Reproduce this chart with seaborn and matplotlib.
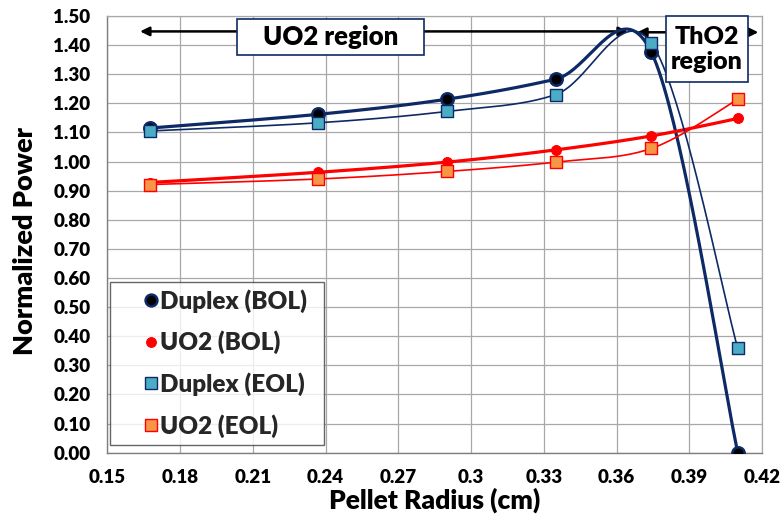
import numpy as np
import pandas as pd
import matplotlib
matplotlib.use("Agg")
import matplotlib.pyplot as plt
from matplotlib.patches import Rectangle
from matplotlib.lines import Line2D
from matplotlib.ticker import MultipleLocator
import seaborn as sns

# Normalized radial power per ring
radius = [0.1675, 0.2368, 0.2900, 0.3349, 0.3744, 0.4100]
duplex_bol = [1.115, 1.162, 1.214, 1.283, 1.375, 0.000]
uo2_bol = [0.928, 0.963, 0.998, 1.040, 1.088, 1.148]
duplex_eol = [1.105, 1.133, 1.172, 1.230, 1.407, 0.358]
uo2_eol = [0.921, 0.940, 0.966, 0.998, 1.045, 1.214]

series_names = ["Duplex (BOL)", "UO2 (BOL)", "Duplex (EOL)", "UO2 (EOL)"]
x_ticks = [0.15, 0.18, 0.21, 0.24, 0.27, 0.30, 0.33, 0.36, 0.39, 0.42]
x_tick_labels = ["0.15", "0.18", "0.21", "0.24", "0.27", "0.3", "0.33", "0.36", "0.39", "0.42"]
y_ticks = [i / 10 for i in range(16)]
y_tick_labels = [f"{v:.2f}" for v in y_ticks]

NAVY = "#0d2a66"
RED = "#ff0000"
TEAL = "#4bacc6"
ORANGE = "#f79646"
GRID = "#a8a8a8"
AXIS = "#7f7f7f"

sns.set_theme(style="white")
plt.rcParams["font.family"] = ["Lato", "DejaVu Sans"]
plt.rcParams["font.weight"] = "heavy"


def smooth_path(xs, ys, n=40):
    """Cubic Bezier through the points (Catmull-Rom style smoothing)."""
    p = np.column_stack([xs, ys]).astype(float)
    ext = np.vstack([p[0], p, p[-1]])
    t = np.linspace(0, 1, n)[:, None]
    out = []
    for i in range(len(p) - 1):
        a, d = ext[i + 1], ext[i + 2]
        b = a + (ext[i + 2] - ext[i]) / 6.0
        c = d - (ext[i + 3] - ext[i + 1]) / 6.0
        seg = (1 - t) ** 3 * a + 3 * (1 - t) ** 2 * t * b + 3 * (1 - t) * t ** 2 * c + t ** 3 * d
        out.append(seg if i == 0 else seg[1:])
    return pd.DataFrame(np.vstack(out), columns=["x", "y"])


fig = plt.figure(figsize=(7.83, 5.14), dpi=100)
ax = fig.add_axes([0.137, 0.1193, 0.8362, 0.8496])

styles = [
    # values, line colour, line width, marker, fill, edge, marker area, edge width
    (duplex_bol, NAVY, 2.3, "o", "black", NAVY, 80, 1.8),
    (uo2_bol, RED, 2.3, "o", RED, RED, 50, 0.8),
    (duplex_eol, NAVY, 1.2, "s", TEAL, NAVY, 64, 1.0),
    (uo2_eol, RED, 1.2, "s", ORANGE, RED, 64, 1.0),
]

for vals, lc, lw, mk, fc, ec, area, ew in styles:
    curve = smooth_path(radius, vals)
    sns.lineplot(data=curve, x="x", y="y", sort=False, estimator=None,
                 color=lc, linewidth=lw, ax=ax, zorder=3)

for vals, lc, lw, mk, fc, ec, area, ew in styles:
    sns.scatterplot(x=radius, y=vals, marker=mk, s=area, color=fc,
                    edgecolor=ec, linewidth=ew, ax=ax, zorder=4, legend=False)

ax.set_xlim(0.15, 0.42)
ax.set_ylim(0.0, 1.5)
ax.set_xticks(x_ticks, x_tick_labels)
ax.set_yticks(y_ticks, y_tick_labels)
ax.xaxis.set_minor_locator(MultipleLocator(0.006))
ax.yaxis.set_minor_locator(MultipleLocator(0.02))

ax.grid(which="major", color=GRID, linewidth=0.9)
ax.set_axisbelow(True)
for side in ["top", "right"]:
    ax.spines[side].set_color(GRID)
    ax.spines[side].set_linewidth(0.9)
for side in ["left", "bottom"]:
    ax.spines[side].set_color(AXIS)
    ax.spines[side].set_linewidth(1.0)

ax.tick_params(which="major", direction="inout", length=8, width=0.8, color=AXIS,
               labelsize=13.5, labelcolor="black")
ax.tick_params(which="minor", direction="inout", length=5, width=0.8, color=AXIS)
ax.tick_params(axis="x", which="major", pad=8)
ax.tick_params(axis="y", which="major", pad=8)

ax.set_xlabel("Pellet Radius (cm)", fontsize=19, fontweight="heavy", color="black")
ax.set_ylabel("Normalized Power", fontsize=19.5, fontweight="heavy", color="black")
ax.xaxis.set_label_coords(0.5, -0.08)
ax.yaxis.set_label_coords(-0.108, 0.485)

# Region arrows
arrow_kw = dict(arrowstyle="<|-|>,head_length=0.45,head_width=0.22", color="black",
                lw=1.8, shrinkA=0, shrinkB=0)
ax.annotate("", xy=(0.3647, 1.447), xytext=(0.1635, 1.447),
            arrowprops=arrow_kw, zorder=2, annotation_clip=False)
ax.annotate("", xy=(0.4185, 1.444), xytext=(0.3685, 1.444),
            arrowprops=arrow_kw, zorder=2, annotation_clip=False)

# Region boxes
ax.add_patch(Rectangle((0.2036, 1.3666), 0.0770, 0.1224, facecolor="white",
                       edgecolor=NAVY, linewidth=1.2, zorder=5))
ax.text(0.2421, 1.428, "UO2 region", ha="center", va="center", fontsize=18.5,
        fontweight="heavy", color="black", zorder=6)
ax.add_patch(Rectangle((0.3804, 1.2716), 0.0337, 0.2274, facecolor="white",
                       edgecolor=NAVY, linewidth=1.2, zorder=5, clip_on=False))
ax.text(0.3972, 1.385, "ThO2\nregion", ha="center", va="center", fontsize=18,
        fontweight="heavy", color="black", zorder=6, linespacing=1.2)

handles = [
    Line2D([], [], ls="none", marker="o", markersize=8.5, markerfacecolor="black",
           markeredgecolor=NAVY, markeredgewidth=1.8),
    Line2D([], [], ls="none", marker="o", markersize=7, markerfacecolor=RED,
           markeredgecolor=RED, markeredgewidth=0.8),
    Line2D([], [], ls="none", marker="s", markersize=8, markerfacecolor=TEAL,
           markeredgecolor=NAVY, markeredgewidth=1.0),
    Line2D([], [], ls="none", marker="s", markersize=8, markerfacecolor=ORANGE,
           markeredgecolor=RED, markeredgewidth=1.0),
]
leg = ax.legend(handles, series_names, loc="lower left",
                bbox_to_anchor=(0.004, 0.0176, 0.3264, 0.38), mode="expand",
                borderaxespad=0, frameon=True, fancybox=False,
                borderpad=0.3, handlelength=2.8, handletextpad=-1.05,
                labelspacing=0.74, prop={"weight": "heavy", "size": 17.5})
leg.get_frame().set_edgecolor("#404040")
leg.get_frame().set_linewidth(1.0)
leg.set_zorder(7)

for lab in ax.get_xticklabels() + ax.get_yticklabels():
    lab.set_fontweight("heavy")

fig.savefig("out.png", dpi=100)
